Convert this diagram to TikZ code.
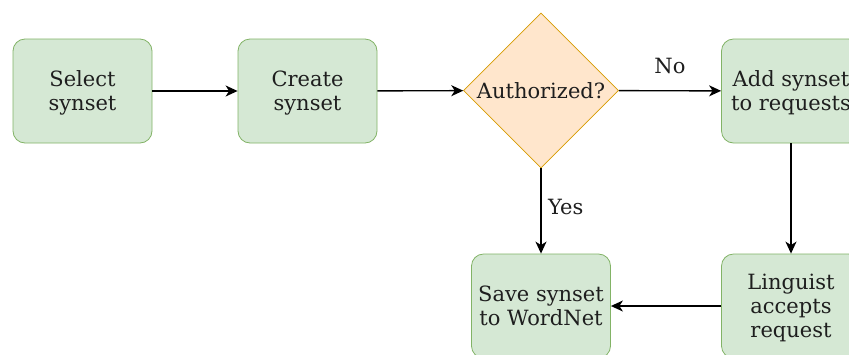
\documentclass[tikz,border=0pt]{standalone}
\usepackage{fontspec}
\setmainfont{DejaVu Serif}
\usetikzlibrary{arrows.meta,shapes.geometric}

\definecolor{stepfill}{HTML}{D5E8D4}
\definecolor{stepline}{HTML}{82B366}
\definecolor{askfill}{HTML}{FFE6CC}
\definecolor{askline}{HTML}{D79B00}
\definecolor{inktext}{HTML}{1E1E1E}

\tikzset{
  stepbox/.style={draw=stepline, fill=stepfill, line width=0.8pt,
    rounded corners=12pt, minimum width=139pt, minimum height=104pt,
    inner sep=0pt, align=center, text=inktext, text depth=0pt,
    font=\fontsize{21}{24}\selectfont},
  askbox/.style={draw=askline, fill=askfill, line width=0.8pt,
    diamond, minimum width=155pt, minimum height=155pt, inner sep=0pt,
    align=center, text=inktext, font=\fontsize{21}{24}\selectfont},
  flow/.style={draw=black, line width=1.4pt,
    -{Stealth[length=12pt,width=11pt,inset=3.5pt]}},
  tag/.style={text=inktext, font=\fontsize{21}{24}\selectfont}
}

\begin{document}
\begin{tikzpicture}[x=1pt,y=-1pt]
  \clip (0,0) rectangle (849,354);
  \fill[white] (0,0) rectangle (849,354);

  % top row: process steps and the decision
  \node[stepbox] (sel) at (82.5,91) {Select\\synset};
  \node[stepbox] (cre) at (307.5,91) {Create\\synset};
  \node[askbox]  (auth) at (541,90.5) {Authorized?};
  \node[stepbox] (add) at (791,91) {Add synset\\to requests};
  % bottom row
  \node[stepbox] (save) at (541,306) {Save synset\\to WordNet};
  \node[stepbox] (ling) at (791,306) {Linguist\\accepts\\request};

  \draw[flow] (sel) -- (cre);
  \draw[flow] (cre) -- (auth);
  \draw[flow] (auth) -- node[tag, above=13pt] {No} (add);
  \draw[flow] (auth.south) -- node[tag, right=3pt, pos=0.45] {Yes} (save.north);
  \draw[flow] (add) -- (ling);
  \draw[flow] (ling) -- (save);
\end{tikzpicture}
\end{document}
